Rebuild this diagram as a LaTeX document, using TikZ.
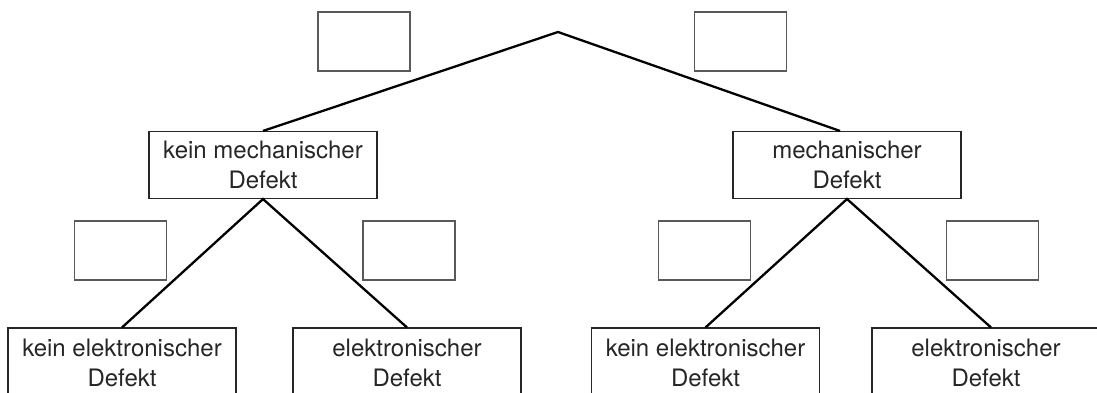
\documentclass[tikz,border=0pt]{standalone}
\usepackage{fontspec}
\setmainfont{TeX Gyre Heros}
\begin{document}
\begin{tikzpicture}[x=1pt,y=-1pt,
  labelbox/.style={draw=black!85,line width=1.1pt,minimum width=228pt,inner sep=0pt,align=center,
    font=\fontsize{24}{30}\selectfont,text=black!85},
  ansbox/.style={draw=black!65,line width=1.3pt,minimum width=92pt,minimum height=59pt,inner sep=0pt},
  branch/.style={line width=2.3pt,black}]
\useasboundingbox (0,0) rectangle (1097,392);
\coordinate (root) at (558,32);
\node[labelbox,minimum height=67pt] (L) at (263,165) {kein mechanischer\\Defekt};
\node[labelbox,minimum height=67pt] (R) at (847,165) {mechanischer\\Defekt};
\node[labelbox,minimum height=70.6pt] (LL) at (122,363.3) {kein elektronischer\\Defekt};
\node[labelbox,minimum height=70.6pt] (LR) at (407,363.3) {elektronischer\\Defekt};
\node[labelbox,minimum height=70.6pt] (RL) at (705.5,363.3) {kein elektronischer\\Defekt};
\node[labelbox,minimum height=70.6pt] (RR) at (986,363.3) {elektronischer\\Defekt};
\node[ansbox] (a1) at (364,41.5) {};
\node[ansbox] (a2) at (740.5,41.5) {};
\node[ansbox] (a3) at (120.5,250.5) {};
\node[ansbox] (a4) at (409,250.5) {};
\node[ansbox] (a5) at (704.5,250.5) {};
\node[ansbox] (a6) at (992.5,250.5) {};
\draw[branch] (L.north) -- (root) -- ([xshift=-7pt]R.north);
\draw[branch] (LL.north) -- (L.south) -- (LR.north);
\draw[branch] (RL.north) -- (R.south) -- ([xshift=5pt]RR.north);
\end{tikzpicture}
\end{document}
